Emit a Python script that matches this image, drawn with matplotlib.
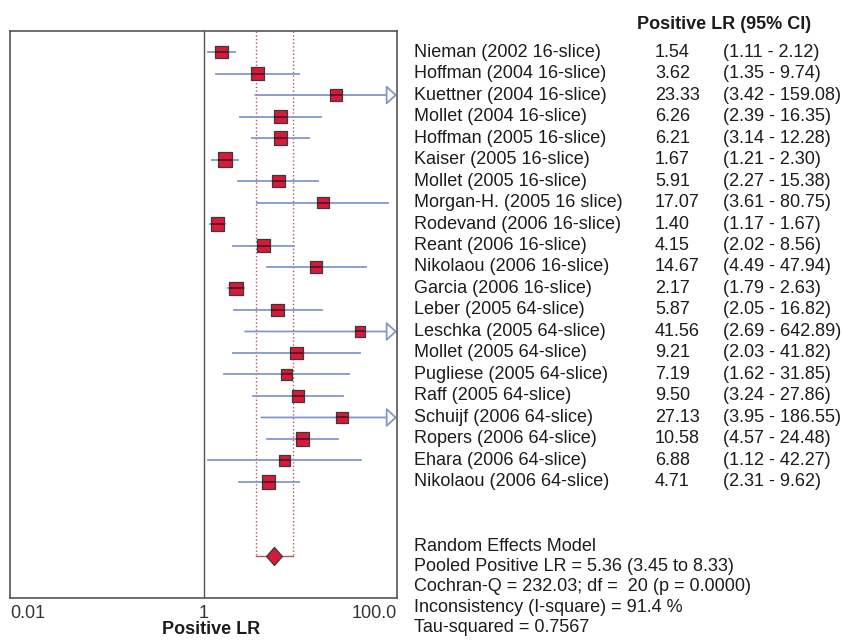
import matplotlib.pyplot as plt
import matplotlib.transforms as mtransforms
from matplotlib.ticker import NullLocator
import numpy as np

plt.rcParams['font.family'] = ['Liberation Sans', 'DejaVu Sans']

studies = [
    "Nieman (2002 16-slice)", "Hoffman (2004 16-slice)", "Kuettner (2004 16-slice)",
    "Mollet (2004 16-slice)", "Hoffman (2005 16-slice)", "Kaiser (2005 16-slice)",
    "Mollet (2005 16-slice)", "Morgan-H. (2005 16 slice)", "Rodevand (2006 16-slice)",
    "Reant (2006 16-slice)", "Nikolaou (2006 16-slice)", "Garcia (2006 16-slice)",
    "Leber (2005 64-slice)", "Leschka (2005 64-slice)", "Mollet (2005 64-slice)",
    "Pugliese (2005 64-slice)", "Raff (2005 64-slice)", "Schuijf (2006 64-slice)",
    "Ropers (2006 64-slice)", "Ehara (2006 64-slice)", "Nikolaou (2006 64-slice)",
]
lr = [1.54, 3.62, 23.33, 6.26, 6.21, 1.67, 5.91, 17.07, 1.40, 4.15, 14.67,
      2.17, 5.87, 41.56, 9.21, 7.19, 9.50, 27.13, 10.58, 6.88, 4.71]
ci_low = [1.11, 1.35, 3.42, 2.39, 3.14, 1.21, 2.27, 3.61, 1.17, 2.02, 4.49,
          1.79, 2.05, 2.69, 2.03, 1.62, 3.24, 3.95, 4.57, 1.12, 2.31]
ci_high = [2.12, 9.74, 159.08, 16.35, 12.28, 2.30, 15.38, 80.75, 1.67, 8.56, 47.94,
           2.63, 16.82, 642.89, 41.82, 31.85, 27.86, 186.55, 24.48, 42.27, 9.62]
# study weights (%)
weights = [4.5, 5.3, 4.3, 4.8, 5.3, 5.9, 4.8, 4.1, 5.6, 5.3, 4.1,
           5.6, 5.0, 3.2, 4.8, 3.8, 4.5, 4.1, 5.6, 4.1, 5.3]

pooled_lr = 5.36
pooled_low = 3.45
pooled_high = 8.33
cochran_q = 232.03
df = 20
p_value = 0.0000
i_square = 91.4
tau_squared = 0.7567

axis_ticks = [0.01, 1, 100]
axis_tick_labels = ["0.01", "1", "100.0"]

RED = "#d7193a"
CI_BLUE = "#8497cb"
POOL_RED = "#b05858"
TEXT = "#1c1c1c"
FS = 13

W, H = 843, 640
fig = plt.figure(figsize=(W / 100, H / 100), dpi=100)
ax = fig.add_axes([10 / W, 1 - 598 / H, 387 / W, 567 / H])
ax.set_xscale("log")
xmin, xmax = 0.01, 100
ax.set_xlim(xmin, xmax)

n = len(studies)
rows = np.arange(n)
pooled_row = n + 2.44
top = -0.98
ax.set_ylim(pooled_row + 1.96, top)

# CI lines, with open arrow when they run past the axis
for i in range(n):
    if ci_high[i] > xmax:
        ax.annotate("", xy=(xmax, i), xytext=(ci_low[i], i),
                    arrowprops=dict(arrowstyle="-|>,head_length=0.65,head_width=0.6",
                                    fc="white", ec=CI_BLUE, lw=1.3,
                                    shrinkA=0, shrinkB=0, mutation_scale=10),
                    zorder=2)
    else:
        ax.plot([ci_low[i], ci_high[i]], [i, i], color=CI_BLUE, lw=1.3, zorder=2)

sizes = 5.8 * np.sqrt(weights) / 1.389
ax.scatter(lr, rows, s=sizes ** 2, marker="s", c=RED, edgecolors="#3a3a3a",
           linewidths=0.9, zorder=3)
ax.scatter(lr, rows, s=sizes ** 2, marker="_", c="#4a1524", linewidths=1.2, zorder=4)

# pooled estimate
ax.plot([pooled_low, pooled_low], [top, pooled_row], color=POOL_RED, lw=1, ls=":", zorder=1)
ax.plot([pooled_high, pooled_high], [top, pooled_row], color=POOL_RED, lw=1, ls=":", zorder=1)
ax.plot([pooled_low, pooled_high], [pooled_row, pooled_row], color=POOL_RED, lw=1, zorder=1)
diamond = [(-0.88, 0), (0, 1), (0.88, 0), (0, -1), (-0.88, 0)]
ax.plot(pooled_lr, pooled_row, marker=diamond, ms=13, mfc=RED, mec="#3a3a3a",
        mew=0.9, zorder=3)

ax.axvline(1, color="#555555", lw=1, zorder=1)

for sp in ax.spines.values():
    sp.set_color("#555555")
    sp.set_linewidth(1.2)

ax.set_yticks([])
ax.set_xticks(axis_ticks)
ax.set_xticklabels(axis_tick_labels)
ax.xaxis.set_minor_locator(NullLocator())
ax.tick_params(axis="x", length=0, pad=5, labelsize=FS, colors="#333333")
labels = ax.get_xticklabels()
labels[0].set_ha("left")
labels[-1].set_ha("right")
ax.set_xlabel("Positive LR", fontsize=FS, fontweight="bold", color=TEXT)
ax.xaxis.set_label_coords(0.52, -0.041)

# text columns on the right
trans = mtransforms.blended_transform_factory(fig.transFigure, ax.transData)
fig.text(637 / W, -1.3, "Positive LR (95% CI)", transform=trans, fontsize=FS,
         fontweight="bold", va="center", color=TEXT)
for i in range(n):
    fig.text(414 / W, i, studies[i], transform=trans, fontsize=FS, va="center", color=TEXT)
    fig.text(655 / W, i, f"{lr[i]:.2f}", transform=trans, fontsize=FS, va="center", color=TEXT)
    fig.text(723 / W, i, f"({ci_low[i]:.2f} - {ci_high[i]:.2f})", transform=trans,
             fontsize=FS, va="center", color=TEXT)

summary_lines = [
    "Random Effects Model",
    f"Pooled Positive LR = {pooled_lr:.2f} ({pooled_low:.2f} to {pooled_high:.2f})",
    f"Cochran-Q = {cochran_q:.2f}; df =  {df} (p = {p_value:.4f})",
    f"Inconsistency (I-square) = {i_square:.1f} %",
    f"Tau-squared = {tau_squared:.4f}",
]
for k, line in enumerate(summary_lines):
    fig.text(414 / W, n + 2.0 + 0.94 * k, line, transform=trans, fontsize=FS,
             va="center", color=TEXT)

fig.savefig("out.png", dpi=100, facecolor="white")
